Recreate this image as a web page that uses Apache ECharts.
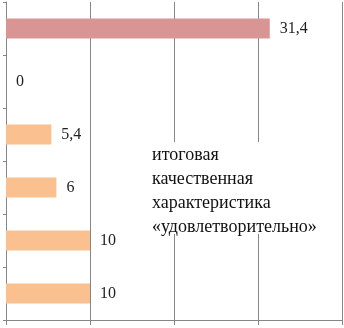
<!DOCTYPE html>
<html>
<head>
<meta charset="utf-8">
<script src="https://cdn.jsdelivr.net/npm/echarts@6/dist/echarts.min.js"></script>
<style>
  html, body { margin: 0; padding: 0; background: #fff; }
  #chart { width: 344px; height: 328px; }
</style>
</head>
<body>
<div id="chart"></div>
<script>
// rows top to bottom
const categories = ['1', '2', '3', '4', '5', '6'];
const values = [31.4, 0, 5.4, 6, 10, 10];
const barColors = ['#D99594', '#FAC090', '#FAC090', '#FAC090', '#FAC090', '#FAC090'];
const noteLines = ['итоговая', 'качественная', 'характеристика', '«удовлетворительно»'];

const chart = echarts.init(document.getElementById('chart'));

chart.setOption({
  animation: false,
  grid: { left: 6, right: 2, top: 2, bottom: 8 },
  xAxis: {
    type: 'value',
    min: 0,
    max: 40,
    interval: 10,
    axisLabel: { show: false },
    axisLine: { show: true, lineStyle: { color: '#868686' } },
    axisTick: { show: true, length: 5, lineStyle: { color: '#868686' } },
    splitLine: { show: true, lineStyle: { color: '#868686', width: 1 } },
  },
  yAxis: {
    type: 'category',
    inverse: true,
    data: categories,
    axisLabel: { show: false },
    axisLine: { show: true, lineStyle: { color: '#868686' } },
    axisTick: { show: true, length: 3, lineStyle: { color: '#868686' } },
  },
  series: [
    {
      type: 'bar',
      barWidth: 20,
      data: values.map((v, i) => ({ value: v, itemStyle: { color: barColors[i] } })),
      label: {
        show: true,
        position: 'right',
        distance: 10,
        fontFamily: 'Liberation Serif',
        fontSize: 16,
        color: '#1f1f1f',
        formatter: (p) => String(p.value).replace('.', ','),
      },
    },
  ],
  graphic: [
    {
      type: 'rect',
      left: 148,
      top: 142,
      shape: { width: 190, height: 92 },
      style: { fill: '#fff' },
      z: 10,
    },
    {
      type: 'text',
      left: 152,
      top: 143,
      z: 11,
      style: {
        text: noteLines.join('\n'),
        fontFamily: 'Liberation Serif',
        fontSize: 18,
        lineHeight: 24,
        fill: '#111',
      },
    },
  ],
});
</script>
</body>
</html>
